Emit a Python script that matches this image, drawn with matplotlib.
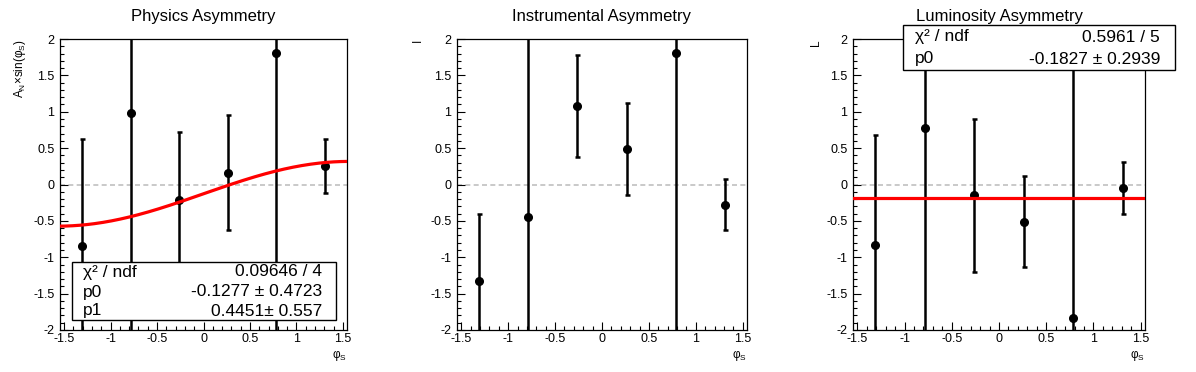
import numpy as np
import matplotlib
matplotlib.use('Agg')
import matplotlib.pyplot as plt
from matplotlib.ticker import MultipleLocator, FuncFormatter
from matplotlib.patches import Rectangle

plt.rcParams['font.family'] = ['Liberation Sans', 'DejaVu Sans']
plt.rcParams['mathtext.fontset'] = 'custom'
plt.rcParams['mathtext.rm'] = 'Liberation Sans'
plt.rcParams['mathtext.it'] = 'Liberation Sans:italic'

# bin centres in phi_S
phi = [-1.309, -0.785, -0.262, 0.262, 0.785, 1.309]

phys_y = [-0.84, 0.98, -0.21, 0.16, 1.81, 0.26]
phys_err = [1.47, 3.2, 0.93, 0.79, 4.0, 0.37]

instr_y = [-1.32, -0.45, 1.08, 0.49, 1.81, -0.28]
instr_err = [0.91, 2.6, 0.70, 0.63, 4.0, 0.35]

lumi_y = [-0.83, 0.77, -0.15, -0.51, -1.83, -0.05]
lumi_err = [1.51, 2.9, 1.05, 0.63, 3.6, 0.36]

# fit results from the stat boxes
phys_p0, phys_p1 = -0.1277, 0.4451
lumi_p0 = -0.1827

titles = ['Physics Asymmetry', 'Instrumental Asymmetry', 'Luminosity Asymmetry']
ylabels = [r'A$_{\mathrm{N}}$×sin(φ$_{\mathrm{S}}$)', 'I', 'L']

W, H = 1196, 372
fig = plt.figure(figsize=(W / 100, H / 100), dpi=100)

lefts = [60, 457, 853]
widths = [287, 290, 292]
top_px, bot_px = 39, 330


def stat_box(x0, y0, x1, y1, rows, lx, rx):
  fig.patches.append(Rectangle((x0 / W, 1 - y1 / H), (x1 - x0) / W, (y1 - y0) / H,
                               transform=fig.transFigure, facecolor='white',
                               edgecolor='black', lw=1.0, zorder=10))
  for (name, val, yc) in rows:
    fig.text(lx / W, 1 - yc / H, name, fontsize=12.5, ha='left', va='center', zorder=11)
    fig.text(rx / W, 1 - yc / H, val, fontsize=12.5, ha='right', va='center', zorder=11)


datasets = [(phys_y, phys_err), (instr_y, instr_err), (lumi_y, lumi_err)]
ylab_x = [-0.14, -0.135, -0.125]
fmt = FuncFormatter(lambda v, p: '%g' % v)

for i in range(3):
  ax = fig.add_axes([lefts[i] / W, 1 - bot_px / H, widths[i] / W, (bot_px - top_px) / H])
  ax.set_xlim(-1.545, 1.545)
  ax.set_ylim(-2, 2)
  ax.axhline(0, color='#c0c0c0', ls=(0, (3, 2)), lw=1.2, zorder=1)
  y, err = datasets[i]
  ax.errorbar(phi, y, yerr=err, fmt='o', color='black', ms=5.5, elinewidth=1.8,
              capsize=1.8, capthick=1.8, zorder=3)
  if i == 0:
    xs = np.linspace(-np.pi / 2, 1.56, 200)
    ax.plot(xs, phys_p0 + phys_p1 * np.sin(xs), color='red', lw=2.3, zorder=4)
  if i == 2:
    ax.plot([-1.545, 1.56], [lumi_p0, lumi_p0], color='red', lw=2.3, zorder=4)

  ax.xaxis.set_major_locator(MultipleLocator(0.5))
  ax.xaxis.set_minor_locator(MultipleLocator(0.1))
  ax.yaxis.set_major_locator(MultipleLocator(0.5))
  ax.yaxis.set_minor_locator(MultipleLocator(0.1))
  ax.tick_params(which='both', direction='in', top=False, right=False, labelsize=9)
  ax.tick_params(which='major', length=6, width=0.8)
  ax.tick_params(which='minor', length=3, width=0.8)
  ax.tick_params(axis='y', pad=4)
  ax.tick_params(axis='x', pad=2)
  ax.xaxis.set_major_formatter(fmt)
  ax.yaxis.set_major_formatter(fmt)
  for s in ax.spines.values():
    s.set_linewidth(0.9)

  ax.set_title(titles[i], fontsize=12, pad=13)
  ax.text(ylab_x[i], 1.0, ylabels[i], rotation=90, ha='center', va='top',
          fontsize=8.5, transform=ax.transAxes)
  ax.text(1.0, -0.088, r'φ$_{\mathrm{S}}$', ha='right', va='center',
          fontsize=8.5, transform=ax.transAxes)

stat_box(72, 262, 336, 320,
         [('χ² / ndf', '0.09646 / 4', 272),
          ('p0', '-0.1277 ± 0.4723', 292),
          ('p1', '0.4451± 0.557', 311)], 83, 322)
stat_box(903, 25, 1175, 70,
         [('χ² / ndf', '0.5961 / 5', 37),
          ('p0', '-0.1827 ± 0.2939', 59)], 915, 1160)

fig.savefig('out.png', dpi=100)
